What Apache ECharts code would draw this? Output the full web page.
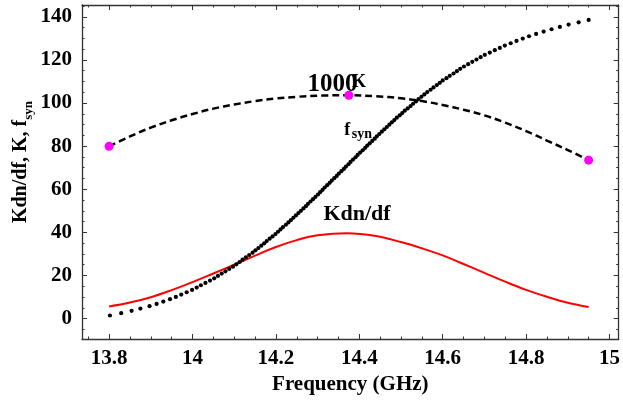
<!DOCTYPE html>
<html>
<head>
<meta charset="utf-8">
<script src="https://cdn.jsdelivr.net/npm/echarts@6/dist/echarts.min.js"></script>
<style>
  html, body { margin: 0; padding: 0; background: #fff; }
  #chart { width: 623px; height: 404px; }
</style>
</head>
<body>
<div id="chart"></div>
<script>
// K dn/df (red solid curve): frequency (GHz) and value
const kdndfFreq = [13.80, 13.85, 13.90, 13.95, 14.00, 14.05, 14.10, 14.15, 14.20, 14.25, 14.30, 14.37,
                   14.44, 14.50, 14.55, 14.60, 14.65, 14.70, 14.75, 14.80, 14.85, 14.90, 14.95];
const kdndf = [5.6, 7.4, 9.9, 13.2, 16.9, 20.9, 25.0, 29.2, 33.2, 36.4, 38.6, 39.6,
               38.3, 35.5, 32.6, 29.3, 25.3, 21.2, 17.1, 13.3, 10.1, 7.3, 5.3];

// 1000 K (black dashed curve): frequency (GHz) and value
const k1000Freq = [13.80, 13.85, 13.90, 13.95, 14.00, 14.05, 14.10, 14.15, 14.20, 14.25, 14.31, 14.375,
                   14.44, 14.50, 14.55, 14.60, 14.65, 14.70, 14.75, 14.80, 14.85, 14.90, 14.95];
const k1000 = [79.9, 84.5, 88.6, 92.0, 94.9, 97.4, 99.3, 100.9, 102.1, 102.9, 103.45, 103.6,
               103.15, 102.2, 100.9, 99.1, 96.9, 94.3, 90.9, 87.0, 82.6, 78.2, 73.5];

// Highlighted points on the 1000 K curve
const markerFreq = [13.80, 14.375, 14.95];
const markerVal = [79.9, 103.6, 73.5];

// f_syn samples (black dots): levels and the frequency at which each is reached
const fsynLevels = [
  1.40, 2.48, 3.56, 4.64, 5.72, 6.80, 7.88, 8.96, 10.04, 11.12,
  12.20, 13.28, 14.36, 15.44, 16.52, 17.60, 18.68, 19.76, 20.84, 21.92,
  23.00, 24.08, 25.16, 26.24, 27.32, 28.40, 29.48, 30.56, 31.64, 32.72,
  33.80, 34.88, 35.96, 37.04, 38.12, 39.20, 40.28, 41.36, 42.44, 43.52,
  44.60, 45.68, 46.76, 47.84, 48.92, 50.00, 51.08, 52.16, 53.24, 54.32,
  55.40, 56.48, 57.56, 58.64, 59.72, 60.80, 61.88, 62.96, 64.04, 65.12,
  66.20, 67.28, 68.36, 69.44, 70.52, 71.60, 72.68, 73.76, 74.84, 75.92,
  77.00, 78.08, 79.16, 80.24, 81.32, 82.40, 83.48, 84.56, 85.64, 86.72,
  87.80, 88.88, 89.96, 91.04, 92.12, 93.20, 94.28, 95.36, 96.44, 97.52,
  98.60, 99.68, 100.76, 101.84, 102.92, 104.00, 105.08, 106.16, 107.24, 108.32,
  109.40, 110.48, 111.56, 112.64, 113.72, 114.80, 115.88, 116.96, 118.04, 119.12,
  120.20, 121.28, 122.36, 123.44, 124.52, 125.60, 126.68, 127.76, 128.84, 129.92,
  131.00, 132.08, 133.16, 134.24, 135.32, 136.40, 137.48, 138.56
];
const fsynFreq = [
  13.802, 13.829, 13.854, 13.875, 13.897, 13.914, 13.930, 13.946, 13.960, 13.973,
  13.986, 13.999, 14.010, 14.020, 14.031, 14.042, 14.052, 14.061, 14.070, 14.079,
  14.088, 14.097, 14.105, 14.113, 14.120, 14.128, 14.136, 14.144, 14.151, 14.158,
  14.165, 14.172, 14.178, 14.185, 14.192, 14.199, 14.205, 14.211, 14.217, 14.224,
  14.230, 14.236, 14.242, 14.248, 14.254, 14.260, 14.266, 14.272, 14.277, 14.283,
  14.289, 14.295, 14.301, 14.306, 14.312, 14.317, 14.323, 14.329, 14.334, 14.340,
  14.346, 14.351, 14.357, 14.363, 14.368, 14.374, 14.379, 14.385, 14.391, 14.396,
  14.402, 14.408, 14.414, 14.419, 14.425, 14.431, 14.437, 14.442, 14.448, 14.454,
  14.460, 14.466, 14.472, 14.478, 14.484, 14.490, 14.497, 14.503, 14.509, 14.516,
  14.523, 14.529, 14.536, 14.542, 14.549, 14.556, 14.563, 14.571, 14.578, 14.586,
  14.593, 14.600, 14.609, 14.617, 14.626, 14.634, 14.642, 14.651, 14.661, 14.671,
  14.681, 14.691, 14.701, 14.713, 14.725, 14.737, 14.749, 14.763, 14.777, 14.792,
  14.807, 14.824, 14.842, 14.861, 14.881, 14.902, 14.926, 14.950
];

// Axis ticks
const xMajorTicks = [13.8, 14.0, 14.2, 14.4, 14.6, 14.8, 15.0];
const xMinorTicks = [13.75, 13.85, 13.9, 13.95, 14.05, 14.1, 14.15, 14.25, 14.3, 14.35,
                     14.45, 14.5, 14.55, 14.65, 14.7, 14.75, 14.85, 14.9, 14.95];
const yMajorTicks = [0, 20, 40, 60, 80, 100, 120, 140];
const yMinorTicks = [-5, 5, 10, 15, 25, 30, 35, 45, 50, 55, 65, 70, 75, 85, 90, 95,
                     105, 110, 115, 125, 130, 135, 145];

const FONT = "'Liberation Serif', 'Times New Roman', 'DejaVu Serif', serif";
const FRAME = '#333';
const X_RANGE = [13.735, 15.022];
const Y_RANGE = [-9.5, 145.5];

function xAxisDef(position, values, tickLen, withLabels, withLine) {
  return {
    type: 'value', position: position, min: X_RANGE[0], max: X_RANGE[1],
    axisLine: { show: withLine, onZero: false, lineStyle: { color: FRAME, width: 1.3 } },
    axisTick: { show: true, inside: true, length: tickLen, customValues: values,
                lineStyle: { color: FRAME, width: 1 } },
    axisLabel: withLabels ? {
      show: true, customValues: values, margin: 9,
      formatter: v => String(Number(v.toFixed(1))),
      color: '#000', fontFamily: FONT, fontWeight: 'bold', fontSize: 21
    } : { show: false },
    splitLine: { show: false }
  };
}
function yAxisDef(position, values, tickLen, withLabels, withLine) {
  return {
    type: 'value', position: position, min: Y_RANGE[0], max: Y_RANGE[1],
    axisLine: { show: withLine, onZero: false, lineStyle: { color: FRAME, width: 1.3 } },
    axisTick: { show: true, inside: true, length: tickLen, customValues: values,
                lineStyle: { color: FRAME, width: 1 } },
    axisLabel: withLabels ? {
      show: true, customValues: values, margin: 10,
      formatter: v => String(Math.round(v)),
      color: '#000', fontFamily: FONT, fontWeight: 'bold', fontSize: 21
    } : { show: false },
    splitLine: { show: false }
  };
}

const xAxes = [
  xAxisDef('bottom', xMajorTicks, 5, true, true),
  xAxisDef('bottom', xMinorTicks, 2.5, false, false),
  xAxisDef('top', xMajorTicks, 5, false, true),
  xAxisDef('top', xMinorTicks, 2.5, false, false)
];
xAxes[0].name = 'Frequency (GHz)';
xAxes[0].nameLocation = 'middle';
xAxes[0].nameGap = 33;
xAxes[0].nameTextStyle = { color: '#000', fontFamily: FONT, fontWeight: 'bold', fontSize: 21 };

const yAxes = [
  yAxisDef('left', yMajorTicks, 5, true, true),
  yAxisDef('left', yMinorTicks, 2.5, false, false),
  yAxisDef('right', yMajorTicks, 5, false, true),
  yAxisDef('right', yMinorTicks, 2.5, false, false)
];

const zip = (xs, ys) => xs.map((x, i) => [x, ys[i]]);

// Text annotations placed in data coordinates
const textLabel = (coord, text, size) => ({
  value: coord,
  label: { show: true, position: 'inside', formatter: text, color: '#000', opacity: 1,
           fontFamily: FONT, fontWeight: 'bold', fontSize: size }
});

const option = {
  animation: false,
  backgroundColor: '#fff',
  grid: { left: 82, right: 2, top: 5, bottom: 65, containLabel: false },
  xAxis: xAxes,
  yAxis: yAxes,
  graphic: [{
    type: 'text', x: 21, y: 162, rotation: Math.PI / 2,
    style: {
      text: '{m|Kdn/df, K, f}{s|syn}',
      align: 'center', verticalAlign: 'middle',
      rich: {
        m: { fontFamily: FONT, fontWeight: 'bold', fontSize: 20, lineHeight: 28, verticalAlign: 'middle', fill: '#000' },
        s: { fontFamily: FONT, fontWeight: 'bold', fontSize: 13, lineHeight: 13, verticalAlign: 'bottom', fill: '#000' }
      }
    }
  }],
  series: [
    {
      name: 'Kdn/df', type: 'line', data: zip(kdndfFreq, kdndf), smooth: 0.4,
      showSymbol: false, lineStyle: { color: '#ff0000', width: 2 }, z: 2
    },
    {
      name: '1000K', type: 'line', data: zip(k1000Freq, k1000), smooth: 0.4,
      showSymbol: false, lineStyle: { color: '#000', width: 2.5, type: [7, 4] }, z: 2
    },
    {
      name: 'fsyn', type: 'scatter', data: zip(fsynFreq, fsynLevels),
      symbolSize: 4.2, itemStyle: { color: '#000', opacity: 1 }, z: 3
    },
    {
      name: 'markers', type: 'scatter', data: zip(markerFreq, markerVal),
      symbolSize: 9, itemStyle: { color: '#ff00ff', opacity: 1 }, z: 5
    },
    {
      name: 'labels', type: 'scatter', symbolSize: 0.1, silent: true,
      itemStyle: { color: 'rgba(0,0,0,0)', opacity: 1 }, z: 6,
      data: [
        textLabel([14.3355, 108.6], '1000', 25),
        textLabel([14.399, 109.6], 'K', 18),
        textLabel([14.371, 87.5], 'f', 18),
        textLabel([14.406, 85.5], 'syn', 14),
        textLabel([14.3945, 48.4], 'Kdn/df', 22)
      ]
    }
  ]
};

const chart = echarts.init(document.getElementById('chart'), null, { renderer: 'canvas' });
chart.setOption(option);
</script>
</body>
</html>
